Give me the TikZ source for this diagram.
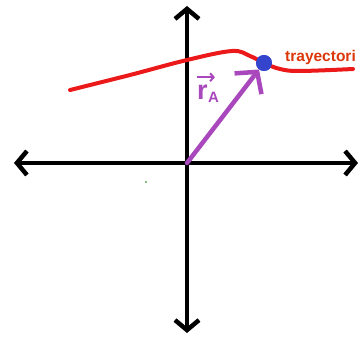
\documentclass[tikz,border=0pt]{standalone}
\usepackage{fontspec}
\setmainfont{Liberation Sans}
\usetikzlibrary{arrows.meta,positioning}
\definecolor{trajred}{RGB}{235,25,25}
\definecolor{vecpurple}{RGB}{168,72,188}
\definecolor{pointblue}{RGB}{52,68,205}
\definecolor{labelred}{RGB}{220,55,10}
\tikzset{
  axis/.style={
    line width=4.5pt,
    line cap=round,
    {Straight Barb[length=10pt,width=24pt]}-{Straight Barb[length=10pt,width=24pt]},
  },
  trajectory/.style={
    draw=trajred,
    line width=4pt,
    line cap=round,
  },
  point/.style={
    circle,
    fill=pointblue,
    inner sep=0pt,
    minimum size=16pt,
  },
  position/.style={
    draw=vecpurple,
    line width=4.5pt,
    line cap=round,
    -{Straight Barb[length=15pt,width=34pt]},
  },
  veclabel/.style={
    text=vecpurple,
    font=\bfseries\fontsize{27}{29}\selectfont,
    inner sep=0pt,
  },
  vecarrow/.style={
    draw=vecpurple,
    line width=2pt,
    -{Straight Barb[length=3.5pt,width=8pt]},
  },
  trajlabel/.style={
    text=labelred,
    font=\bfseries\fontsize{15.5}{17}\selectfont,
    inner sep=0pt,
    anchor=base west,
  },
}

\begin{document}
\begin{tikzpicture}[x=1pt,y=-1pt]
    \useasboundingbox (0,0) rectangle (360,337);

    % axes
    \coordinate (origin) at (187,163);
    \coordinate (x-left) at (14,163);
    \coordinate (x-right) at (358,163);
    \coordinate (y-top) at (187,6);
    \coordinate (y-bottom) at (187,333);
    \draw[axis] (x-left) -- (x-right);
    \draw[axis] (y-bottom) -- (y-top);

    % trajectory and point A
    \node [point] (pointA) at (264,63) {};
    \draw[trajectory] plot[smooth, tension=0.6] coordinates
      {(70,90) (130,75) (187,60) (232,51) (250,56) (264,63)
       (280,69) (300,71) (353,69)};
    \node [point] at (pointA) {};
    \node [trajlabel] (traj-text) at (285,62) {trayectori};

    % position vector
    \draw[position] (origin) -- (pointA);
    \node [veclabel, anchor=base west] (rA) at (197,100) {r};
    \node [veclabel, right=0pt of rA.base east, anchor=base west,
      yshift=-3pt, font=\bfseries\fontsize{15}{17}\selectfont] (rA-sub) {A};
    \draw[vecarrow] ([yshift=8pt]rA.north west) -- ([xshift=7pt,yshift=8pt]rA.north east);

    \fill[green!50!black] (146,182) circle (0.8pt);
\end{tikzpicture}
\end{document}
